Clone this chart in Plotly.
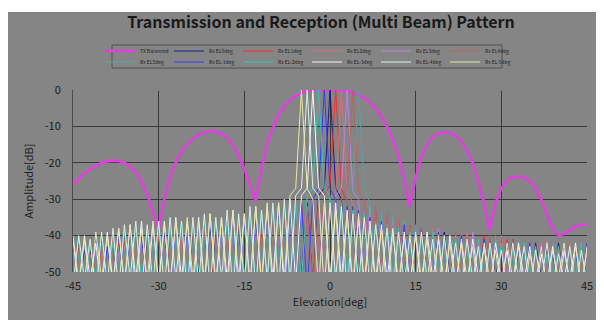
import plotly.graph_objects as go

# Elevation grid (deg), shared by all series
elevation = list(range(-45, 46))

# TX Balanced pattern (dB), at elevation -45..45
tx_balanced = [
    -26, -24.5, -23, -21.8, -20.8, -20, -19.6, -19.4, -19.5, -20,
    -21, -22.5, -25, -28.5, -33.5, -38.5, -30, -24, -20, -17,
    -15, -13.5, -12.3, -11.7, -11.3, -11.4, -12, -13, -15, -18,
    -21.5, -26, -30.5, -22, -15, -10.5, -7, -4.5, -2.8, -1.6,
    -0.8, -0.3, -0.1, 0, 0, 0, 0, -0.1, -0.3, -0.7,
    -1.3, -2.2, -3.4, -5, -7.2, -10, -13.5, -18, -24, -32,
    -24, -18.5, -15, -13, -12, -11.6, -11.8, -12.5, -14, -16.5,
    -20, -25, -31, -38.5, -31, -27, -25, -24, -23.7, -24,
    -25, -27, -30, -34, -38, -40, -39.5, -38.5, -37.5, -37,
    -37,
]

rx_el0 = [
    -55, -42, -53, -44, -56, -41, -52, -43, -57, -40,
    -54, -39, -55, -40, -52, -38, -56, -39, -53, -37,
    -55, -38, -51, -37, -56, -38, -52, -36, -54, -37,
    -55, -36, -52, -35, -56, -34, -53, -33, -55, -33,
    -51, -31, -54, -29, -27, 0, -27, -30, -55, -32,
    -52, -34, -56, -34, -53, -36, -55, -38, -52, -39,
    -56, -38, -53, -40, -55, -39, -52, -41, -56, -40,
    -53, -42, -55, -41, -52, -42, -56, -41, -54, -43,
    -55, -42, -52, -43, -56, -42, -53, -44, -55, -43,
    -52,
]
rx_el1 = [
    -43, -54, -41, -57, -44, -52, -40, -55, -42, -53,
    -39, -56, -40, -51, -38, -55, -39, -53, -37, -56,
    -38, -52, -37, -55, -38, -54, -36, -51, -37, -56,
    -36, -53, -35, -55, -34, -52, -33, -56, -32, -53,
    -31, -55, -30, -52, -29, -26, 0, -27, -31, -54,
    -33, -52, -34, -56, -35, -53, -37, -55, -38, -52,
    -39, -56, -38, -53, -40, -55, -41, -52, -39, -56,
    -42, -53, -40, -55, -43, -52, -41, -56, -42, -54,
    -44, -55, -42, -52, -43, -56, -45, -53, -43, -55,
    -44,
]
rx_el2 = [
    -53, -44, -56, -42, -54, -45, -52, -41, -55, -43,
    -57, -40, -53, -39, -55, -40, -52, -38, -56, -39,
    -54, -37, -55, -38, -51, -37, -56, -38, -53, -36,
    -55, -37, -52, -35, -56, -35, -53, -34, -55, -33,
    -52, -32, -56, -31, -53, -30, -28, 0, -28, -31,
    -55, -33, -52, -34, -56, -35, -53, -37, -55, -38,
    -52, -39, -56, -38, -53, -40, -55, -41, -52, -39,
    -56, -41, -53, -42, -55, -40, -52, -43, -56, -42,
    -54, -43, -55, -41, -52, -44, -56, -42, -53, -44,
    -55,
]
rx_el3 = [
    -44, -55, -42, -52, -43, -56, -41, -53, -44, -55,
    -40, -52, -41, -56, -39, -54, -40, -55, -38, -52,
    -39, -56, -38, -53, -37, -55, -38, -52, -36, -56,
    -37, -54, -36, -55, -35, -51, -34, -56, -34, -53,
    -33, -55, -32, -52, -31, -56, -29, -27, 0, -28,
    -30, -53, -32, -55, -34, -52, -35, -56, -36, -53,
    -38, -55, -39, -52, -38, -56, -40, -53, -41, -55,
    -39, -52, -42, -56, -41, -53, -43, -55, -42, -52,
    -44, -56, -42, -53, -43, -55, -45, -52, -43, -56,
    -44,
]
rx_el4 = [
    -56, -43, -53, -45, -55, -42, -52, -44, -56, -41,
    -53, -40, -55, -41, -52, -39, -56, -40, -53, -38,
    -55, -39, -52, -38, -56, -37, -54, -38, -55, -37,
    -51, -36, -56, -37, -53, -35, -55, -35, -52, -34,
    -56, -33, -53, -32, -55, -31, -52, -30, -27, 0,
    -28, -30, -55, -32, -52, -34, -56, -35, -53, -37,
    -55, -38, -52, -39, -56, -40, -53, -39, -55, -41,
    -52, -42, -56, -40, -53, -43, -55, -41, -52, -42,
    -56, -44, -53, -42, -55, -43, -52, -45, -56, -43,
    -53,
]
rx_el5 = [
    -45, -52, -43, -56, -44, -53, -42, -55, -43, -52,
    -41, -56, -40, -53, -41, -55, -39, -52, -40, -56,
    -38, -53, -39, -55, -38, -52, -37, -56, -38, -53,
    -37, -55, -36, -52, -36, -56, -35, -53, -34, -55,
    -34, -52, -33, -56, -32, -53, -31, -55, -30, -28,
    0, -27, -31, -54, -33, -52, -34, -56, -36, -53,
    -37, -55, -38, -52, -39, -56, -40, -53, -39, -55,
    -41, -52, -42, -56, -40, -53, -43, -55, -41, -52,
    -42, -56, -44, -53, -42, -55, -43, -52, -45, -56,
    -43,
]
rx_elm1 = [
    -42, -54, -44, -52, -41, -56, -43, -53, -40, -55,
    -39, -52, -40, -56, -38, -53, -39, -55, -37, -52,
    -38, -56, -36, -53, -37, -55, -36, -52, -35, -56,
    -36, -53, -35, -55, -34, -52, -33, -56, -32, -53,
    -31, -55, -30, -27, 0, -27, -30, -52, -32, -56,
    -33, -53, -35, -55, -36, -52, -38, -56, -37, -53,
    -39, -55, -40, -52, -39, -56, -41, -53, -40, -55,
    -42, -52, -41, -56, -43, -53, -42, -55, -44, -52,
    -42, -56, -43, -53, -45, -55, -43, -52, -44, -56,
    -42,
]
rx_elm2 = [
    -53, -41, -55, -43, -52, -40, -56, -42, -53, -39,
    -55, -38, -52, -39, -56, -37, -53, -38, -55, -36,
    -52, -37, -56, -36, -53, -35, -55, -36, -52, -34,
    -56, -35, -53, -33, -55, -32, -52, -32, -56, -31,
    -53, -29, -27, 0, -27, -29, -55, -31, -52, -33,
    -56, -34, -53, -36, -55, -37, -52, -38, -56, -39,
    -53, -40, -55, -39, -52, -41, -56, -40, -53, -42,
    -55, -41, -52, -43, -56, -42, -53, -44, -55, -42,
    -52, -43, -56, -45, -53, -43, -55, -44, -52, -42,
    -56,
]
rx_elm3 = [
    -41, -55, -40, -52, -42, -56, -39, -53, -38, -55,
    -37, -52, -36, -56, -37, -53, -36, -55, -35, -52,
    -36, -56, -35, -53, -34, -55, -35, -52, -33, -56,
    -34, -53, -32, -55, -32, -52, -31, -56, -30, -53,
    -29, -27, 0, -27, -29, -55, -31, -52, -33, -56,
    -34, -53, -36, -55, -37, -52, -38, -56, -39, -53,
    -40, -55, -39, -52, -41, -56, -40, -53, -42, -55,
    -41, -52, -43, -56, -42, -53, -44, -55, -42, -52,
    -43, -56, -45, -53, -43, -55, -44, -52, -42, -56,
    -43,
]
rx_elm4 = [
    -54, -40, -52, -41, -56, -39, -53, -38, -55, -37,
    -52, -36, -56, -37, -53, -36, -55, -35, -52, -36,
    -56, -35, -53, -34, -55, -35, -52, -33, -56, -34,
    -53, -32, -55, -33, -52, -31, -56, -30, -53, -29,
    -27, 0, -27, -29, -55, -31, -52, -32, -56, -34,
    -53, -35, -55, -37, -52, -38, -56, -39, -53, -40,
    -55, -39, -52, -41, -56, -40, -53, -42, -55, -41,
    -52, -43, -56, -42, -53, -44, -55, -42, -52, -43,
    -56, -44, -53, -42, -55, -45, -52, -43, -56, -44,
    -53,
]
rx_elm5 = [
    -40, -53, -41, -56, -39, -52, -40, -55, -38, -53,
    -37, -56, -38, -52, -36, -55, -37, -53, -36, -56,
    -35, -52, -36, -55, -34, -53, -35, -56, -33, -52,
    -34, -55, -32, -53, -31, -56, -31, -52, -29, -27,
    0, -27, -30, -55, -31, -52, -33, -56, -34, -53,
    -35, -55, -37, -52, -38, -56, -39, -53, -40, -55,
    -39, -52, -41, -56, -40, -53, -42, -55, -41, -52,
    -43, -56, -42, -53, -44, -55, -42, -52, -43, -56,
    -45, -53, -43, -55, -44, -52, -42, -56, -43, -53,
    -44,
]

series_names = ["TX Balanced", "Rx EL0deg", "Rx EL1deg", "Rx EL2deg", "Rx EL3deg", "Rx EL4deg",
                "Rx EL5deg", "Rx EL-1deg", "Rx EL-2deg", "Rx EL-3deg", "Rx EL-4deg", "Rx EL-5deg"]
series_values = [tx_balanced, rx_el0, rx_el1, rx_el2, rx_el3, rx_el4,
                 rx_el5, rx_elm1, rx_elm2, rx_elm3, rx_elm4, rx_elm5]
series_colors = ["#e23ee2", "#1c1c8e", "#ff2a2a", "#d9707a", "#c080e0", "#c06060",
                 "#5fa0a0", "#3a3aff", "#30c8b0", "#f2f8f8", "#d8f0e8", "#e8e8a8"]

x_ticks = [-45, -30, -15, 0, 15, 30, 45]
y_ticks = [0, -10, -20, -30, -40, -50]

BG = "#858585"
GRID = "#3a3a3a"
FONT = "Noto Sans CJK JP"

# The page body adds an 8 px offset; figure is sized to fill the rest of the window.
OFF = 8
W, H = 604 - OFF, 320 - OFF
L, R, T, B = 73 - OFF, 17, 90 - OFF, 48
pw, ph = W - L - R, H - T - B

fig = go.Figure()
for i, (name, vals, col) in enumerate(zip(series_names, series_values, series_colors)):
    fig.add_trace(go.Scatter(
        x=elevation, y=vals, mode="lines", name=name,
        legend="legend" if i < 6 else "legend2",
        line=dict(color=col, width=2.6 if name == "TX Balanced" else 1),
    ))

legend_common = dict(orientation="h", xref="container", yref="container",
                     x=(307 - OFF) / W, xanchor="center", yanchor="middle",
                     bgcolor="rgba(0,0,0,0)", borderwidth=0,
                     font=dict(size=5, color="#1e1e1e", family=FONT),
                     itemwidth=30, traceorder="normal",
                     entrywidth=24, entrywidthmode="pixels")


def px_x(p):
    return (p - OFF - L) / pw


def px_y(p):
    return (H - B - (p - OFF)) / ph


fig.update_layout(
    width=W, height=H,
    margin=dict(l=L, r=R, t=T, b=B, pad=0, autoexpand=False),
    paper_bgcolor="white",
    plot_bgcolor=BG,
    font=dict(family=FONT, size=11, color="#1e1e1e"),
    title=dict(text="<b>Transmission and Reception (Multi Beam) Pattern</b>",
               x=(321 - OFF) / W, xanchor="center", xref="container",
               y=1 - (22 - OFF) / H, yanchor="middle", yref="container",
               font=dict(size=16, color="#1a1a1a", family=FONT)),
    showlegend=True,
    legend=dict(y=1 - (51 - OFF) / H, **legend_common),
    legend2=dict(y=1 - (62 - OFF) / H, **legend_common),
    shapes=[
        dict(type="rect", xref="paper", yref="paper",
             x0=px_x(OFF), x1=px_x(610),
             y0=px_y(330), y1=px_y(12),
             fillcolor=BG, line=dict(width=0), layer="below"),
        dict(type="rect", xref="paper", yref="paper",
             x0=px_x(112), x1=px_x(502),
             y0=px_y(68), y1=px_y(45),
             fillcolor="rgba(0,0,0,0)", line=dict(color="#505050", width=1), layer="above"),
    ],
    xaxis=dict(range=[-45, 45], tickvals=x_ticks, ticktext=[str(v) for v in x_ticks],
               automargin=False,
               showgrid=True, gridcolor=GRID, gridwidth=1,
               zeroline=True, zerolinecolor=GRID, zerolinewidth=1,
               showline=False, ticks="", ticklabelstandoff=6,
               title=dict(text="Elevation[deg]", standoff=4, font=dict(size=11))),
    yaxis=dict(range=[-50, 0], tickvals=y_ticks, ticktext=[str(v) for v in y_ticks],
               automargin=False,
               showgrid=True, gridcolor=GRID, gridwidth=1,
               zeroline=True, zerolinecolor=BG, zerolinewidth=1,
               showline=True, linecolor="#4a4a4a", linewidth=1,
               ticks="", ticklabelstandoff=9,
               title=dict(text="Amplitude[dB]", standoff=8, font=dict(size=11))),
)

fig.write_html("out.html")
